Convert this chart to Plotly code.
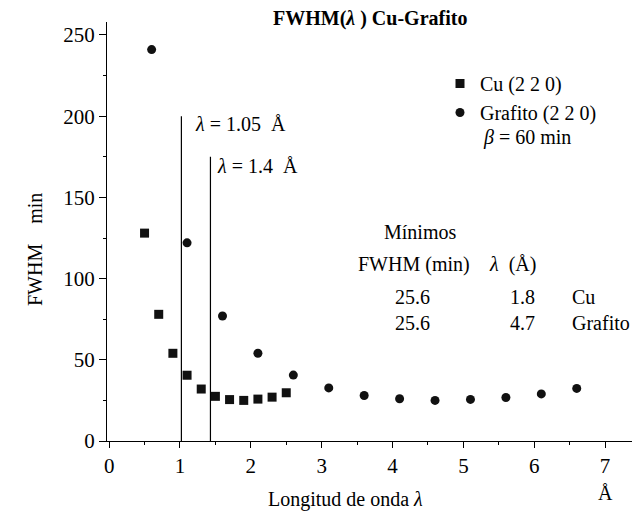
import plotly.graph_objects as go

# ---- data ----
cu_x = [0.5, 0.7, 0.9, 1.1, 1.3, 1.5, 1.7, 1.9, 2.1, 2.3, 2.5]
cu_y = [128, 78, 54, 40.5, 32, 27.5, 25.5, 25, 25.8, 27, 29.7]
gr_x = [0.6, 1.1, 1.6, 2.1, 2.6, 3.1, 3.6, 4.1, 4.6, 5.1, 5.6, 6.1, 6.6]
gr_y = [241, 122, 77, 54, 40.6, 32.7, 28, 26, 25, 25.6, 26.8, 29, 32.4]
vline_x = [1.02, 1.43]
vline_top = [200, 175]
vline_labels = ["<i>\u03bb</i> = 1.05  \u00c5", "<i>\u03bb</i> = 1.4  \u00c5"]
min_header = ["FWHM (min)", "<i>\u03bb</i>  (\u00c5)"]
min_fwhm = ["25.6", "25.6"]
min_lambda = ["1.8", "4.7"]
min_names = ["Cu", "Grafito"]

FONT = "Liberation Serif"
W, H = 632, 519
L, R, T, B = 107, 0, 22, 78
pw, ph = W - L - R, H - T - B

def px(x):
    return (x - L) / pw

def py(y):
    return (H - B - y) / ph

fig = go.Figure()
fig.add_trace(go.Scatter(x=cu_x, y=cu_y, mode="markers", name="Cu (2 2 0)",
                         marker=dict(symbol="square", size=9, color="#111")))
fig.add_trace(go.Scatter(x=gr_x, y=gr_y, mode="markers", name="Grafito (2 2 0)",
                         marker=dict(symbol="circle", size=9, color="#111")))

for xv, top in zip(vline_x, vline_top):
    fig.add_trace(go.Scatter(x=[xv, xv], y=[0, top], mode="lines", showlegend=False,
                             line=dict(color="black", width=1.2), hoverinfo="skip"))

ann = []
def txt(s, x, y, size=20, xanchor="center", bold=False, angle=0):
    ann.append(dict(text=("<b>%s</b>" % s) if bold else s, x=px(x), y=py(y),
                    xref="paper", yref="paper", showarrow=False, xanchor=xanchor,
                    yanchor="middle", textangle=angle,
                    font=dict(family=FONT, size=size, color="black")))

txt("FWHM(<i>\u03bb</i> ) Cu-Grafito", 370, 18, size=20, bold=True)
txt(vline_labels[0], 193, 124, xanchor="left")
txt(vline_labels[1], 215, 166, xanchor="left")
txt("<i>\u03b2</i> = 60 min", 481, 137, xanchor="left")
txt("M\u00ednimos", 420, 232)
txt(min_header[0], 414, 264)
txt(min_header[1], 487, 264, xanchor="left")
for i, yy in enumerate([297, 323]):
    txt(min_fwhm[i], 412, yy)
    txt(min_lambda[i], 522, yy)
    txt(min_names[i], 570, yy, xanchor="left")
txt("Longitud de onda <i>\u03bb</i>", 345, 499)
txt("\u00c5", 605, 493)
txt("FWHM    min", 35, 250, angle=-90)

fig.update_layout(
    width=W, height=H, margin=dict(l=L, r=R, t=T, b=B),
    paper_bgcolor="white", plot_bgcolor="white",
    font=dict(family=FONT, size=21, color="black"),
    showlegend=True,
    legend=dict(x=px(440), y=py(64), xanchor="left", yanchor="top",
                bgcolor="rgba(0,0,0,0)", font=dict(family=FONT, size=20),
                itemwidth=30, tracegroupgap=0),
    annotations=ann,
)
fig.update_xaxes(range=[-0.03, 7.38], showgrid=False, zeroline=False,
                 showline=True, linecolor="black", linewidth=1.2,
                 ticks="outside", ticklen=6, tickwidth=1.2, tickcolor="black",
                 tickvals=list(range(8)),
                 minor=dict(ticks="outside", ticklen=3, tickcolor="black",
                            tickvals=[0.5 + i for i in range(7)]))
fig.update_yaxes(range=[0, 258], showgrid=False, zeroline=False,
                 showline=True, linecolor="black", linewidth=1.2,
                 ticks="outside", ticklen=7, tickwidth=1.2, tickcolor="black",
                 tickvals=[0, 50, 100, 150, 200, 250],
                 minor=dict(ticks="outside", ticklen=3, tickcolor="black",
                            tickvals=[25, 75, 125, 175, 225]))

fig.write_html("out.html")
